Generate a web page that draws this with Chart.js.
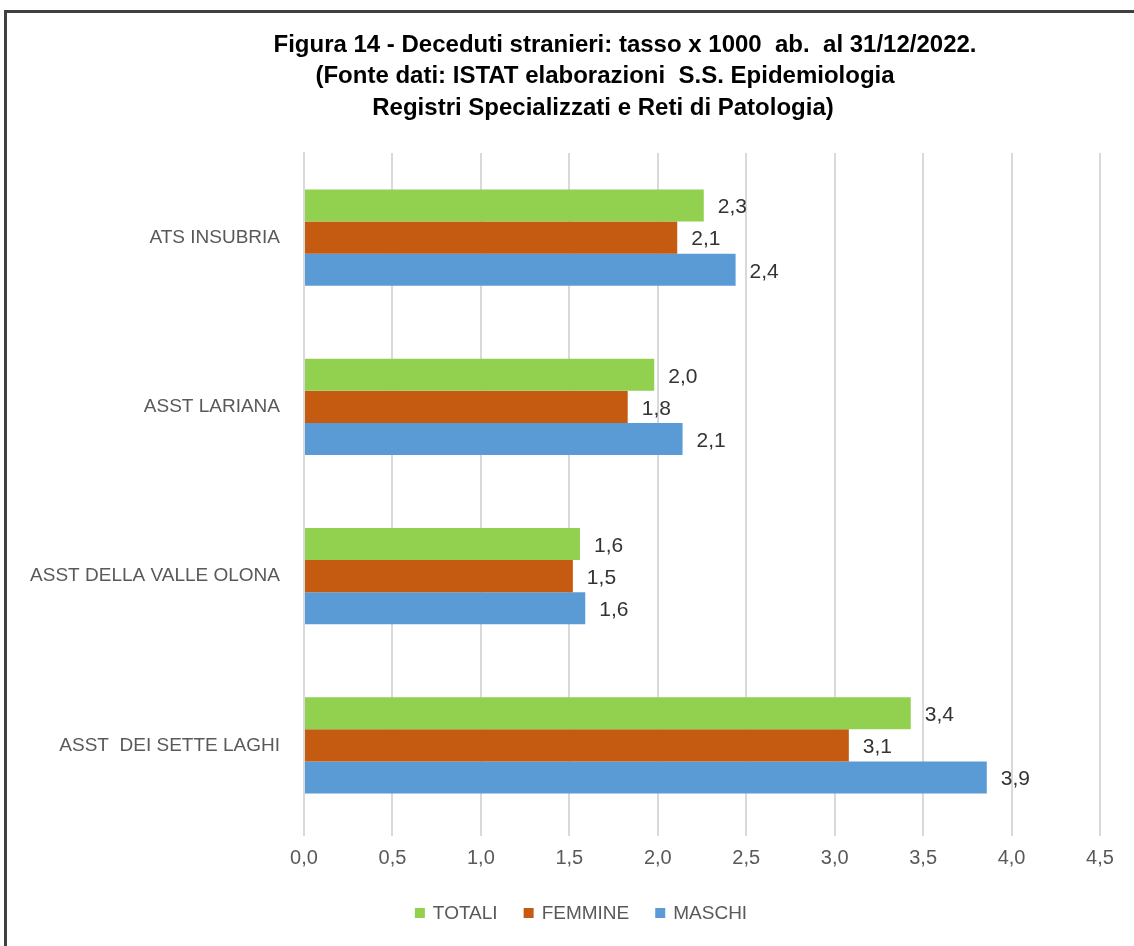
<!DOCTYPE html>
<html>
<head>
<meta charset="utf-8">
<script src="https://cdn.jsdelivr.net/npm/chart.js@4.4.0/dist/chart.umd.min.js"></script>
<style>
html, body { margin: 0; padding: 0; background: #fff; overflow: hidden; }
#wrap { position: relative; width: 1134px; height: 946px; }
#frame { position: absolute; left: 4px; top: 10px; width: 1200px; height: 1000px;
         border-top: 3px solid #404040; border-left: 3px solid #404040; pointer-events: none; }
canvas { position: absolute; left: 0; top: 0; }
</style>
</head>
<body>
<div id="wrap">
  <canvas id="chart" width="1134" height="946"></canvas>
  <div id="frame"></div>
</div>
<script>
const categories = ["ATS INSUBRIA", "ASST LARIANA", "ASST DELLA VALLE OLONA", "ASST  DEI SETTE LAGHI"];
const totali = [2.26, 1.98, 1.56, 3.43];
const femmine = [2.11, 1.83, 1.52, 3.08];
const maschi = [2.44, 2.14, 1.59, 3.86];
const seriesNames = ["TOTALI", "FEMMINE", "MASCHI"];
const seriesColors = ["#92d050", "#c55a11", "#5b9bd5"];
const titleLines = [
    "Figura 14 - Deceduti stranieri: tasso x 1000  ab.  al 31/12/2022.",
    "(Fonte dati: ISTAT elaborazioni  S.S. Epidemiologia",
    "Registri Specializzati e Reti di Patologia)"
];

const FONT = "'Liberation Sans', Arial, sans-serif";
const fmt = v => v.toFixed(1).replace(".", ",");

// title, value labels and legend drawn by hand, Excel style
const extras = {
    id: "extras",
    afterDatasetsDraw(chart) {
        const ctx = chart.ctx;
        ctx.save();
        ctx.font = "21px " + FONT;
        ctx.fillStyle = "#333";
        ctx.textBaseline = "middle";
        ctx.textAlign = "left";
        chart.data.datasets.forEach((ds, i) => {
            chart.getDatasetMeta(i).data.forEach((bar, j) => {
                ctx.fillText(fmt(ds.data[j]), bar.x + 14, bar.y + 2);
            });
        });
        ctx.restore();
    },
    afterDraw(chart) {
        const ctx = chart.ctx;
        ctx.save();
        ctx.fillStyle = "#000";
        ctx.textAlign = "center";
        ctx.textBaseline = "middle";
        ctx.font = "bold 24px " + FONT;
        const tx = [625, 605, 603];
        const ty = [45, 76, 108];
        titleLines.forEach((t, i) => ctx.fillText(t, tx[i], ty[i]));

        // legend
        ctx.font = "19px " + FONT;
        ctx.textAlign = "left";
        const box = 10, gapText = 8, gapItem = 26;
        let total = 0;
        const widths = seriesNames.map(n => ctx.measureText(n).width);
        widths.forEach(w => total += box + gapText + w);
        total += gapItem * (seriesNames.length - 1);
        let x = 581 - total / 2;
        const y = 913;
        chart.data.datasets.forEach((ds, i) => {
            ctx.fillStyle = ds.backgroundColor;
            ctx.fillRect(x, y - box / 2, box, box);
            ctx.fillStyle = "#595959";
            ctx.fillText(ds.label, x + box + gapText, y + 1);
            x += box + gapText + widths[i] + gapItem;
        });
        ctx.restore();
    }
};

new Chart(document.getElementById("chart"), {
    type: "bar",
    data: {
        labels: categories,
        datasets: [
            { label: seriesNames[0], data: totali, backgroundColor: seriesColors[0] },
            { label: seriesNames[1], data: femmine, backgroundColor: seriesColors[1] },
            { label: seriesNames[2], data: maschi, backgroundColor: seriesColors[2] }
        ]
    },
    options: {
        indexAxis: "y",
        responsive: false,
        animation: false,
        devicePixelRatio: 1,
        categoryPercentage: 0.57,
        barPercentage: 1.0,
        layout: { padding: { top: 153, right: 34, left: 0, bottom: 0 } },
        plugins: {
            legend: { display: false },
            title: { display: false },
            tooltip: { enabled: false }
        },
        scales: {
            x: {
                min: 0,
                max: 4.5,
                ticks: {
                    stepSize: 0.5,
                    padding: 10,
                    color: "#595959",
                    font: { family: FONT, size: 20 },
                    callback: v => fmt(v)
                },
                grid: { color: "#d9d9d9", lineWidth: 2, tickLength: 6 },
                border: { display: false },
                afterFit(scale) { scale.height = 116; }
            },
            y: {
                ticks: {
                    padding: 16,
                    color: "#595959",
                    font: { family: FONT, size: 19 }
                },
                grid: { display: false },
                border: { color: "#d9d9d9", width: 2 },
                afterFit(scale) { scale.width = 304; }
            }
        }
    },
    plugins: [extras]
});
</script>
</body>
</html>
